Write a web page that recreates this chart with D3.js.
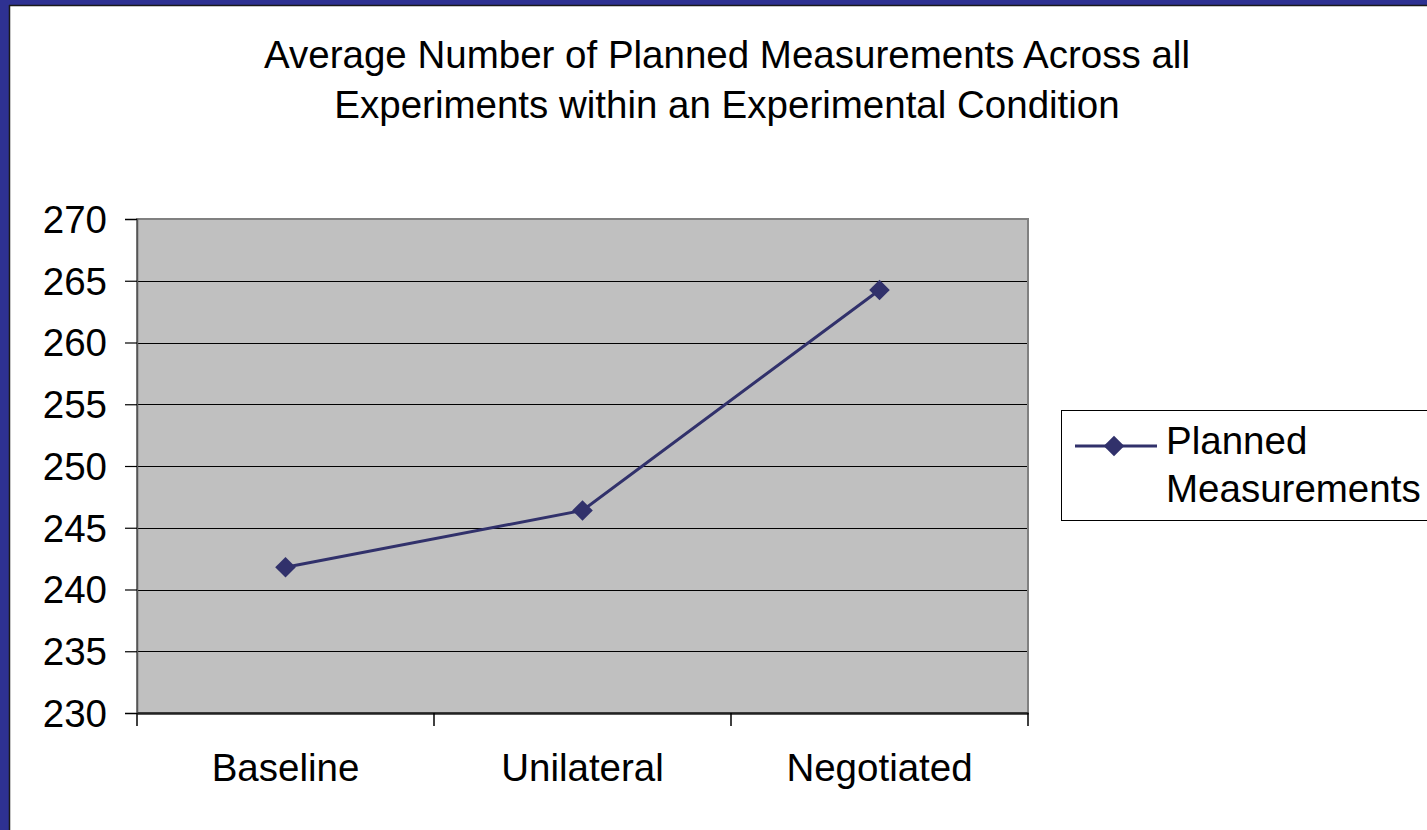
<!DOCTYPE html>
<html>
<head>
<meta charset="utf-8">
<script src="https://cdn.jsdelivr.net/npm/d3@7"></script>
<style>
  html, body { margin: 0; padding: 0; background: #ffffff; }
  svg { display: block; }
</style>
</head>
<body>
<svg id="chart" width="1427" height="830"></svg>
<script>
// Experimental conditions and the average planned measurements for each
const categories = ["Baseline", "Unilateral", "Negotiated"];
const plannedMeasurements = [241.8, 246.4, 264.25];
const yTicks = [230, 235, 240, 245, 250, 255, 260, 265, 270];
const titleLines = [
  "Average Number of Planned Measurements Across all",
  "Experiments within an Experimental Condition"
];
const seriesName = ["Planned", "Measurements"];

const W = 1427, H = 830;
const svg = d3.select("#chart");
const font = "'Liberation Sans', Arial, Helvetica, sans-serif";
const fontSize = 38.5;
const navy = "#31316b";

// Frame: blue band along top and left with a dark inner rule
svg.append("rect").attr("x", 0).attr("y", 0).attr("width", W).attr("height", H).attr("fill", "#ffffff");
svg.append("rect").attr("x", 0).attr("y", 0).attr("width", W).attr("height", 5).attr("fill", "#2e3192");
svg.append("rect").attr("x", 0).attr("y", 0).attr("width", 9).attr("height", H).attr("fill", "#2e3192");
svg.append("line").attr("x1", 9).attr("x2", W).attr("y1", 5.5).attr("y2", 5.5).attr("stroke", "#1a1a1a").attr("stroke-width", 1.5);
svg.append("line").attr("x1", 9.5).attr("x2", 9.5).attr("y1", 5).attr("y2", H).attr("stroke", "#1a1a1a").attr("stroke-width", 1.5);

// Title
const title = svg.append("text")
  .attr("text-anchor", "middle")
  .attr("font-family", font)
  .attr("font-size", fontSize)
  .attr("fill", "#000");
titleLines.forEach((t, i) => {
  title.append("tspan").attr("x", 727).attr("y", 68 + i * 50).text(t);
});

// Plot area
const plot = { left: 137, right: 1028, top: 219, bottom: 713 };

const x = d3.scaleBand()
  .domain(categories)
  .range([plot.left, plot.right])
  .paddingInner(0).paddingOuter(0);

const y = d3.scaleLinear()
  .domain([230, 270])
  .range([plot.bottom, plot.top]);

svg.append("rect")
  .attr("x", plot.left).attr("y", plot.top)
  .attr("width", plot.right - plot.left).attr("height", plot.bottom - plot.top)
  .attr("fill", "#c0c0c0");

// Horizontal gridlines
svg.append("g")
  .selectAll("line")
  .data(yTicks.filter(v => v > 230 && v < 270))
  .join("line")
  .attr("x1", plot.left).attr("x2", plot.right)
  .attr("y1", d => Math.round(y(d)) + 0.5).attr("y2", d => Math.round(y(d)) + 0.5)
  .attr("stroke", "#000").attr("stroke-width", 1);

// Plot border
svg.append("rect")
  .attr("x", plot.left).attr("y", plot.top)
  .attr("width", plot.right - plot.left).attr("height", plot.bottom - plot.top)
  .attr("fill", "none").attr("stroke", "#808080").attr("stroke-width", 2);

// Y axis
const yAxis = svg.append("g")
  .attr("transform", `translate(${plot.left},0)`)
  .call(d3.axisLeft(y).tickValues(yTicks).tickSize(12).tickPadding(18).tickFormat(d3.format("d")));
yAxis.select(".domain").attr("stroke", "#555").attr("stroke-width", 1.5);
yAxis.selectAll(".tick line").attr("stroke", "#000").attr("stroke-width", 1.2);
yAxis.selectAll(".tick text").attr("font-family", font).attr("font-size", fontSize).attr("fill", "#000").attr("dy", "0.35em");

// X axis
const xAxis = svg.append("g")
  .attr("transform", `translate(0,${plot.bottom})`)
  .call(d3.axisBottom(x).tickSize(0).tickPadding(41));
xAxis.select(".domain").attr("stroke", "#222").attr("stroke-width", 2.5);
xAxis.selectAll(".tick text").attr("font-family", font).attr("font-size", fontSize).attr("fill", "#000");
// Tick marks at category boundaries
svg.append("g")
  .selectAll("line")
  .data(d3.range(categories.length + 1))
  .join("line")
  .attr("x1", i => i < categories.length ? x(categories[i]) : x(categories[i - 1]) + x.bandwidth())
  .attr("x2", i => i < categories.length ? x(categories[i]) : x(categories[i - 1]) + x.bandwidth())
  .attr("y1", plot.bottom).attr("y2", plot.bottom + 13)
  .attr("stroke", "#000").attr("stroke-width", 1.5);

// Series line and diamond markers
const cx = c => x(c) + x.bandwidth() / 2;
const pts = categories.map((c, i) => [cx(c), y(plannedMeasurements[i])]);
svg.append("path")
  .attr("d", d3.line()(pts))
  .attr("fill", "none").attr("stroke", navy).attr("stroke-width", 3);

const diamond = d3.symbol().type(d3.symbolDiamond2).size(270);
svg.append("g")
  .selectAll("path")
  .data(pts)
  .join("path")
  .attr("transform", d => `translate(${d[0]},${d[1]})`)
  .attr("d", diamond)
  .attr("fill", navy);

// Legend
const lg = svg.append("g");
lg.append("rect")
  .attr("x", 1061.5).attr("y", 410.5).attr("width", 380).attr("height", 110)
  .attr("fill", "#fff").attr("stroke", "#000").attr("stroke-width", 1);
lg.append("line")
  .attr("x1", 1075).attr("x2", 1157).attr("y1", 446).attr("y2", 446)
  .attr("stroke", navy).attr("stroke-width", 3);
lg.append("path")
  .attr("transform", "translate(1114,446)")
  .attr("d", diamond)
  .attr("fill", navy);
const lt = lg.append("text")
  .attr("font-family", font).attr("font-size", fontSize).attr("fill", "#000");
seriesName.forEach((t, i) => {
  lt.append("tspan").attr("x", 1166).attr("y", 454 + i * 48).text(t);
});
</script>
</body>
</html>
